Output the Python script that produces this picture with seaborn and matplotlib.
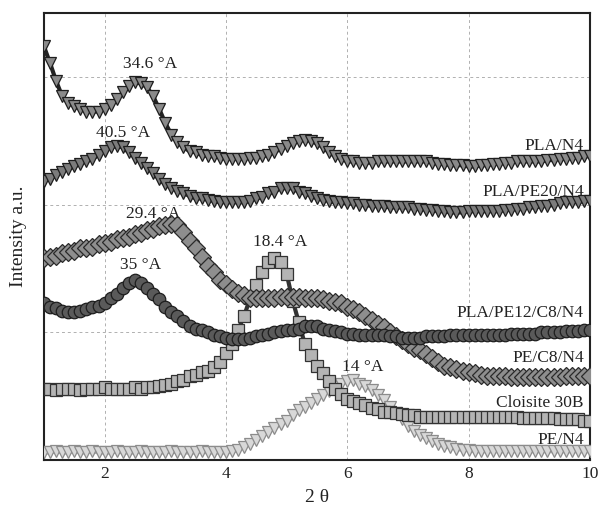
"""
XRD patterns of the PLA / PE nanocomposites (intensity vs 2 theta)
"""
import numpy as np
import pandas as pd
import matplotlib
matplotlib.use("Agg")
import matplotlib.pyplot as plt
import seaborn as sns

# scan grid, 2 theta in degrees (0.1 deg step)
two_theta = np.round(np.arange(1.0, 10.01, 0.1), 1)

# intensities, a.u. (offset curves)
pla_n4 = [
    3.24, 3.11, 2.97, 2.85, 2.80, 2.77, 2.75, 2.73, 2.73, 2.73,
    2.75, 2.78, 2.83, 2.88, 2.93, 2.96, 2.95, 2.92, 2.85, 2.75,
    2.64, 2.55, 2.49, 2.45, 2.42, 2.41, 2.39, 2.38, 2.38, 2.37,
    2.36, 2.36, 2.36, 2.36, 2.37, 2.37, 2.38, 2.39, 2.41, 2.44,
    2.46, 2.48, 2.50, 2.51, 2.50, 2.48, 2.45, 2.41, 2.38, 2.36,
    2.34, 2.34, 2.33, 2.33, 2.33, 2.34, 2.34, 2.34, 2.34, 2.34,
    2.34, 2.34, 2.34, 2.34, 2.33, 2.32, 2.32, 2.31, 2.31, 2.31,
    2.30, 2.30, 2.31, 2.31, 2.32, 2.32, 2.33, 2.33, 2.34, 2.34,
    2.34, 2.34, 2.34, 2.35, 2.35, 2.36, 2.36, 2.37, 2.37, 2.38,
    2.38,
]
pla_pe20_n4 = [
    2.19, 2.20, 2.23, 2.26, 2.28, 2.30, 2.32, 2.34, 2.36, 2.39,
    2.42, 2.45, 2.46, 2.45, 2.41, 2.37, 2.33, 2.29, 2.25, 2.20,
    2.16, 2.13, 2.11, 2.09, 2.07, 2.05, 2.05, 2.04, 2.03, 2.02,
    2.02, 2.02, 2.02, 2.02, 2.03, 2.05, 2.06, 2.09, 2.10, 2.13,
    2.13, 2.13, 2.10, 2.09, 2.07, 2.05, 2.04, 2.03, 2.02, 2.02,
    2.01, 2.01, 2.00, 2.00, 1.99, 1.99, 1.99, 1.98, 1.98, 1.98,
    1.98, 1.97, 1.97, 1.96, 1.96, 1.95, 1.95, 1.94, 1.94, 1.94,
    1.95, 1.95, 1.95, 1.95, 1.95, 1.95, 1.96, 1.96, 1.97, 1.97,
    1.98, 1.98, 1.99, 1.99, 2.00, 2.01, 2.02, 2.02, 2.02, 2.03,
    2.03,
]
pla_pe12_c8_n4 = [
    1.23, 1.20, 1.19, 1.17, 1.16, 1.16, 1.17, 1.18, 1.20, 1.21,
    1.23, 1.27, 1.30, 1.35, 1.39, 1.41, 1.39, 1.35, 1.30, 1.26,
    1.20, 1.16, 1.13, 1.09, 1.05, 1.03, 1.02, 1.00, 0.98, 0.97,
    0.96, 0.95, 0.95, 0.95, 0.96, 0.97, 0.98, 0.99, 1.00, 1.01,
    1.02, 1.02, 1.03, 1.05, 1.05, 1.05, 1.03, 1.02, 1.01, 1.00,
    0.99, 0.99, 0.98, 0.98, 0.98, 0.98, 0.98, 0.97, 0.97, 0.96,
    0.96, 0.96, 0.96, 0.97, 0.97, 0.97, 0.97, 0.98, 0.98, 0.98,
    0.98, 0.98, 0.98, 0.98, 0.98, 0.98, 0.98, 0.99, 0.99, 0.99,
    0.99, 0.99, 1.00, 1.00, 1.00, 1.00, 1.01, 1.01, 1.01, 1.02,
    1.02,
]
pe_c8_n4 = [
    1.58, 1.59, 1.60, 1.62, 1.63, 1.64, 1.66, 1.66, 1.67, 1.69,
    1.70, 1.71, 1.73, 1.74, 1.75, 1.77, 1.78, 1.80, 1.81, 1.83,
    1.84, 1.85, 1.84, 1.79, 1.72, 1.66, 1.59, 1.52, 1.47, 1.41,
    1.38, 1.34, 1.31, 1.29, 1.27, 1.27, 1.27, 1.27, 1.27, 1.28,
    1.28, 1.28, 1.28, 1.27, 1.27, 1.27, 1.26, 1.25, 1.24, 1.23,
    1.20, 1.18, 1.16, 1.13, 1.10, 1.07, 1.04, 1.00, 0.97, 0.94,
    0.91, 0.88, 0.86, 0.83, 0.80, 0.77, 0.74, 0.73, 0.71, 0.70,
    0.69, 0.68, 0.67, 0.66, 0.66, 0.66, 0.66, 0.65, 0.65, 0.65,
    0.65, 0.65, 0.65, 0.65, 0.65, 0.65, 0.66, 0.66, 0.66, 0.66,
    0.66,
]
cloisite_30b = [
    0.56, 0.56, 0.55, 0.56, 0.56, 0.56, 0.55, 0.56, 0.56, 0.56,
    0.57, 0.56, 0.56, 0.56, 0.56, 0.57, 0.56, 0.57, 0.57, 0.58,
    0.59, 0.60, 0.62, 0.63, 0.66, 0.67, 0.69, 0.70, 0.73, 0.77,
    0.84, 0.91, 1.02, 1.13, 1.27, 1.37, 1.47, 1.55, 1.58, 1.55,
    1.46, 1.25, 1.08, 0.91, 0.82, 0.74, 0.68, 0.62, 0.56, 0.52,
    0.48, 0.46, 0.45, 0.43, 0.41, 0.40, 0.38, 0.38, 0.37, 0.36,
    0.35, 0.35, 0.34, 0.34, 0.34, 0.34, 0.34, 0.34, 0.34, 0.34,
    0.34, 0.34, 0.34, 0.34, 0.34, 0.34, 0.34, 0.34, 0.34, 0.33,
    0.33, 0.33, 0.33, 0.33, 0.33, 0.32, 0.32, 0.32, 0.32, 0.31,
    0.31,
]
pe_n4 = [
    0.06, 0.06, 0.07, 0.06, 0.06, 0.07, 0.06, 0.06, 0.07, 0.06,
    0.06, 0.06, 0.07, 0.06, 0.06, 0.06, 0.07, 0.06, 0.06, 0.06,
    0.06, 0.07, 0.06, 0.06, 0.06, 0.06, 0.07, 0.06, 0.06, 0.06,
    0.06, 0.07, 0.08, 0.10, 0.13, 0.16, 0.19, 0.22, 0.25, 0.28,
    0.31, 0.35, 0.39, 0.42, 0.45, 0.48, 0.51, 0.54, 0.57, 0.60,
    0.62, 0.63, 0.60, 0.58, 0.55, 0.51, 0.47, 0.42, 0.37, 0.32,
    0.27, 0.23, 0.20, 0.17, 0.15, 0.13, 0.11, 0.10, 0.09, 0.08,
    0.08, 0.07, 0.07, 0.07, 0.07, 0.07, 0.07, 0.07, 0.07, 0.07,
    0.07, 0.07, 0.07, 0.07, 0.07, 0.07, 0.07, 0.07, 0.07, 0.07,
    0.07,
]

series_names = ["PE/N4", "Cloisite 30B", "PE/C8/N4", "PLA/PE12/C8/N4",
                "PLA/PE20/N4", "PLA/N4"]
series_values = [pe_n4, cloisite_30b, pe_c8_n4, pla_pe12_c8_n4,
                 pla_pe20_n4, pla_n4]

# d-spacing annotations: (2 theta, intensity, text)
peak_x = [2.75, 2.3, 2.8, 2.6, 4.9, 6.25]
peak_y = [3.1, 2.56, 1.93, 1.53, 1.71, 0.73]
peak_text = ["34.6 °A", "40.5 °A", "29.4 °A", "35 °A", "18.4 °A", "14 °A"]

# curve labels on the right side
label_y = [0.16, 0.45, 0.80, 1.15, 2.10, 2.46]

styles = {
    "PE/N4":          dict(marker="v", mfc="#d8d8d8", mec="#8c8c8c", lc="#b0b0b0"),
    "Cloisite 30B":   dict(marker="s", mfc="#b4b4b4", mec="#333333", lc="#333333"),
    "PE/C8/N4":       dict(marker="D", mfc="#8e8e8e", mec="#2a2a2a", lc="#333333"),
    "PLA/PE12/C8/N4": dict(marker="o", mfc="#5a5a5a", mec="#1e1e1e", lc="#222222"),
    "PLA/PE20/N4":    dict(marker="v", mfc="#7c7c7c", mec="#1e1e1e", lc="#222222"),
    "PLA/N4":         dict(marker="v", mfc="#8a8a8a", mec="#1e1e1e", lc="#222222"),
}

df = pd.DataFrame({name: vals for name, vals in zip(series_names, series_values)})
df["two_theta"] = two_theta
long_df = df.melt(id_vars="two_theta", var_name="sample", value_name="intensity")

sns.set_style("white")
plt.rcParams["font.family"] = ["Liberation Serif", "DejaVu Serif"]

fig = plt.figure(figsize=(6.02, 5.09), dpi=100)
ax = fig.add_axes([0.073, 0.096, 0.907, 0.878])

for name in series_names:
    st = styles[name]
    sub = long_df[long_df["sample"] == name]
    sns.lineplot(data=sub, x="two_theta", y="intensity", ax=ax,
                 color=st["lc"], linewidth=3, marker=st["marker"],
                 markersize=9, markerfacecolor=st["mfc"],
                 markeredgecolor=st["mec"], markeredgewidth=0.9,
                 legend=False, zorder=3)

for x, y, t in zip(peak_x, peak_y, peak_text):
    ax.text(x, y, t, ha="center", va="center", fontsize=12.5, color="#222222")

for y, t in zip(label_y, series_names):
    ax.text(9.9, y, t, ha="right", va="center", fontsize=12.5, color="#222222")

ax.set_xlim(1, 10)
ax.set_ylim(0, 3.5)
ax.set_xticks([2, 4, 6, 8, 10])
ax.set_yticks([1, 2, 3])
ax.set_yticklabels([])
ax.tick_params(axis="both", length=0, labelsize=12.5, colors="#222222", pad=4)
ax.grid(True, linestyle=(0, (3, 3)), color="#b0b0b0", linewidth=0.7)
ax.set_axisbelow(True)
for sp in ax.spines.values():
    sp.set_color("#222222")
    sp.set_linewidth(1.5)

ax.set_xlabel("2 θ", fontsize=14, color="#222222", labelpad=5)
ax.set_ylabel("Intensity a.u.", fontsize=14, color="#222222", labelpad=8)

fig.savefig("out.png", dpi=100)
